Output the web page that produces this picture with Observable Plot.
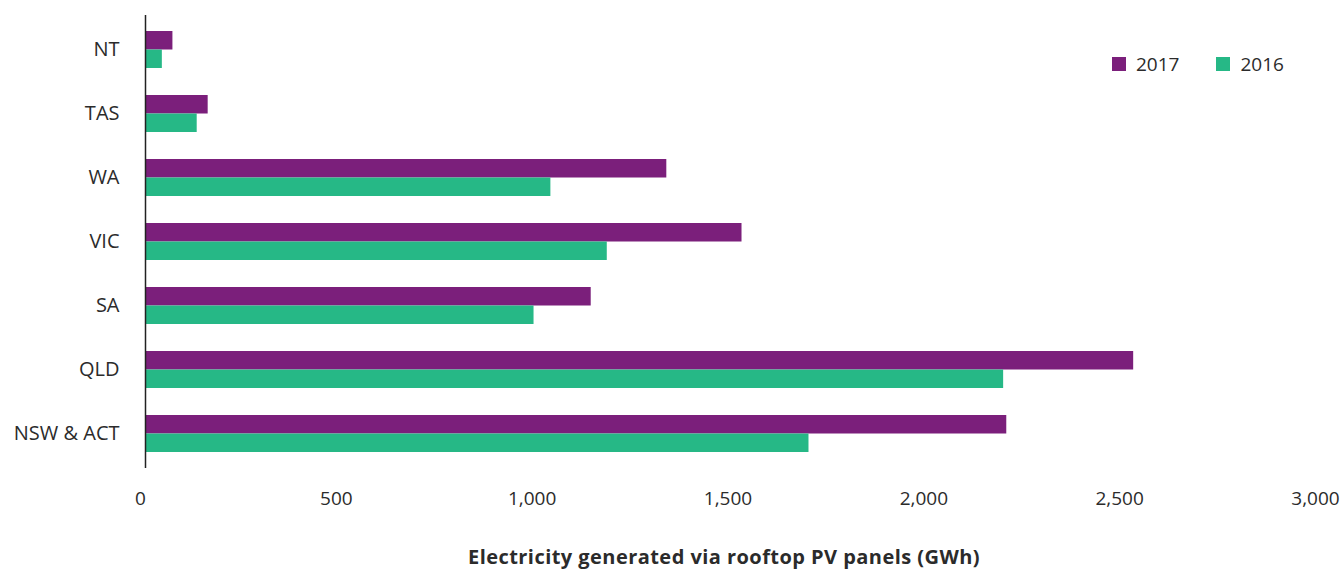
<!DOCTYPE html>
<html>
<head>
<meta charset="utf-8">
<script src="https://cdn.jsdelivr.net/npm/d3@7"></script>
<script src="https://cdn.jsdelivr.net/npm/@observablehq/plot@0.6"></script>
<style>
  body { margin: 0; background: #fff; font-family: "Open Sans", sans-serif; }
  #chart { position: relative; width: 1344px; height: 569px; }
  #legend { position: absolute; top: 52px; left: 1112px; display: flex; gap: 37px; font-size: 19px; color: #2b2b2b; }
  .item { display: flex; align-items: center; gap: 10px; height: 24px; }
  .swatch { width: 14px; height: 14px; }
  #xtitle { position: absolute; left: 424px; width: 600px; top: 544px; text-align: center;
            font-size: 20px; line-height: 26px; font-weight: 700; letter-spacing: 0.45px; color: #2b2b2b; }
</style>
</head>
<body>
<div id="chart"><div id="legend"></div><div id="xtitle"></div></div>
<script>
// Rooftop PV generation by state (GWh)
const states = ["NT", "TAS", "WA", "VIC", "SA", "QLD", "NSW & ACT"];
const gen2017 = [70, 160, 1331, 1523, 1138, 2523, 2199];
const gen2016 = [43, 132, 1035, 1179, 992, 2191, 1694];
const years = ["2017", "2016"];
const colors = ["#7b1f7b", "#26b886"];
const xTicks = [0, 500, 1000, 1500, 2000, 2500, 3000];
const xTitle = "Electricity generated via rooftop PV panels (GWh)";

const rows = [
  ...states.map((s, i) => ({state: s, year: "2017", value: gen2017[i]})),
  ...states.map((s, i) => ({state: s, year: "2016", value: gen2016[i]}))
];

const W = 1344, H = 569;
const mTop = 15, mBottom = 101, mLeft = 145, mRight = 24;
const padIn = 0.427, padOut = 0.221;

// half a band: the 2017 bar fills the top half, 2016 the bottom half
const bw = d3.scaleBand(states, [mTop, H - mBottom]).paddingInner(padIn).paddingOuter(padOut).bandwidth();
const half = bw / 2;

const plot = Plot.plot({
  width: W,
  height: H,
  marginTop: mTop,
  marginBottom: mBottom,
  marginLeft: mLeft,
  marginRight: mRight,
  style: {fontFamily: "'Open Sans', sans-serif", fontSize: "19px", color: "#2b2b2b", background: "#fff"},
  x: {domain: [0, 3000]},
  y: {domain: states, paddingInner: padIn, paddingOuter: padOut},
  color: {domain: years, range: colors},
  marks: [
    Plot.barX(rows.filter(d => d.year === "2017"), {x: "value", y: "state", fill: "year", insetBottom: half}),
    Plot.barX(rows.filter(d => d.year === "2016"), {x: "value", y: "state", fill: "year", insetTop: half}),
    Plot.ruleX([0], {stroke: "#222", strokeWidth: 1.5}),
    Plot.axisY({tickSize: 0, tickPadding: 26, fontSize: 20, label: null}),
    Plot.axisX({
      ticks: xTicks,
      tickSize: 0,
      tickPadding: 23,
      tickFormat: d3.format(","),
      dx: -5,
      label: null
    })
  ]
});

const chart = document.getElementById("chart");
chart.insertBefore(plot, chart.firstChild);
document.getElementById("xtitle").textContent = xTitle;

const legend = document.getElementById("legend");
years.forEach((y, i) => {
  const item = document.createElement("div");
  item.className = "item";
  const sw = document.createElement("span");
  sw.className = "swatch";
  sw.style.background = colors[i];
  const label = document.createElement("span");
  label.textContent = y;
  item.append(sw, label);
  legend.append(item);
});
</script>
</body>
</html>
